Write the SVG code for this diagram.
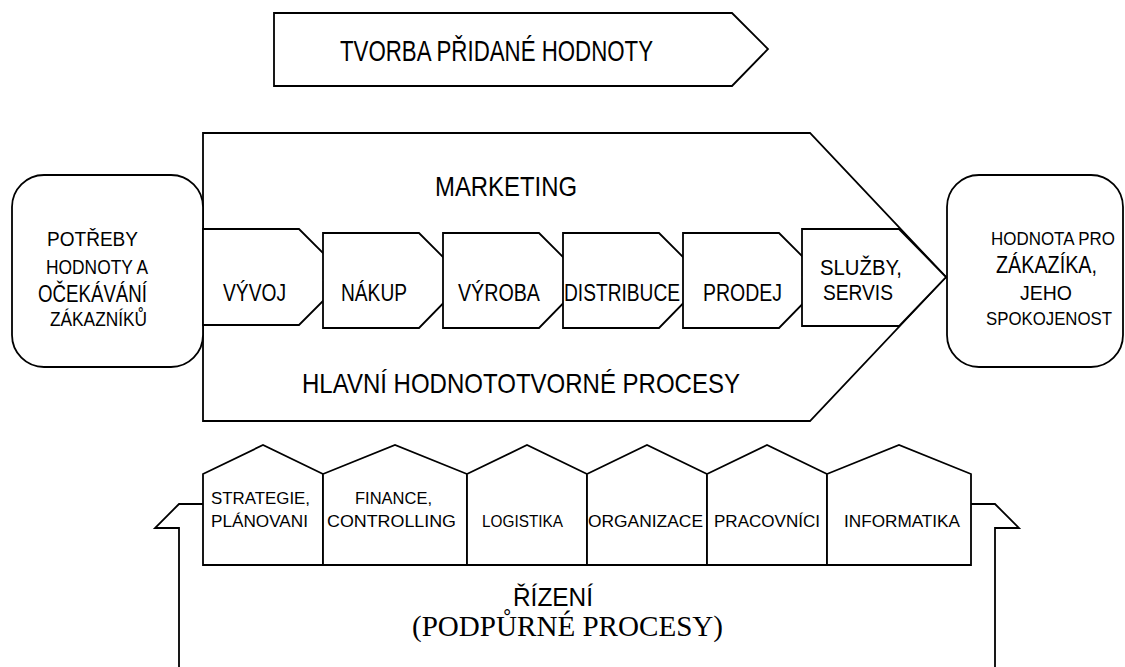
<svg xmlns="http://www.w3.org/2000/svg" width="1125" height="667" viewBox="0 0 1125 667">
  <style>
    .shape { fill: #fff; stroke: #000; stroke-width: 1.8; stroke-linejoin: miter; }
    .line { fill: none; stroke: #000; stroke-width: 1.8; stroke-linejoin: miter; }
    .lbl { font-family: "Liberation Sans", Arial, sans-serif; fill: #000; }
    .serif { font-family: "Liberation Serif", "Times New Roman", serif; fill: #000; }
  </style>
  <rect width="1125" height="667" fill="#fff"/>

  <!-- value-creation arrow -->
  <g id="tvorba">
    <polygon class="shape" points="274,13 732,13 768,49 732,86 274,86"/>
    <text class="lbl" x="340" y="61" font-size="29" textLength="313" lengthAdjust="spacingAndGlyphs">TVORBA PŘIDANÉ HODNOTY</text>
  </g>

  <!-- main value chain -->
  <g id="hlavni-procesy">
    <polygon class="shape" points="203,133 810,133 946,277 810,421 203,421"/>
    <text class="lbl" x="435" y="196" font-size="28" textLength="142" lengthAdjust="spacingAndGlyphs">MARKETING</text>
    <text class="lbl" x="302" y="393" font-size="28" textLength="438" lengthAdjust="spacingAndGlyphs">HLAVNÍ HODNOTOTVORNÉ PROCESY</text>
  </g>

  <g id="potreby">
    <rect class="shape" x="12" y="175" width="191" height="192" rx="32" ry="32"/>
    <text class="lbl" x="47" y="246" font-size="20" textLength="91" lengthAdjust="spacingAndGlyphs">POTŘEBY</text>
    <text class="lbl" x="46" y="274" font-size="20" textLength="102" lengthAdjust="spacingAndGlyphs">HODNOTY A</text>
    <text class="lbl" x="38" y="302" font-size="24" textLength="109" lengthAdjust="spacingAndGlyphs">OČEKÁVÁNÍ</text>
    <text class="lbl" x="50" y="326" font-size="20" textLength="97" lengthAdjust="spacingAndGlyphs">ZÁKAZNÍKŮ</text>
  </g>

  <g id="hodnota">
    <rect class="shape" x="947" y="175" width="176" height="192" rx="32" ry="32"/>
    <text class="lbl" x="991" y="245" font-size="19" textLength="124" lengthAdjust="spacingAndGlyphs">HODNOTA PRO</text>
    <text class="lbl" x="996" y="273" font-size="23" textLength="101" lengthAdjust="spacingAndGlyphs">ZÁKAZÍKA,</text>
    <text class="lbl" x="1020" y="300" font-size="20" textLength="52" lengthAdjust="spacingAndGlyphs">JEHO</text>
    <text class="lbl" x="986" y="325" font-size="19" textLength="126" lengthAdjust="spacingAndGlyphs">SPOKOJENOST</text>
  </g>

  <!-- chain steps, each drawn over the previous one's tip -->
  <g id="vyvoj">
    <polygon class="shape" points="203,229 299,229 347,277 299,325 203,325"/>
    <text class="lbl" x="223" y="301" font-size="23" textLength="63" lengthAdjust="spacingAndGlyphs">VÝVOJ</text>
  </g>
  <g id="nakup">
    <polygon class="shape" points="323,233 419,233 466,280 419,328 323,328"/>
    <text class="lbl" x="341" y="301" font-size="23" textLength="66" lengthAdjust="spacingAndGlyphs">NÁKUP</text>
  </g>
  <g id="vyroba">
    <polygon class="shape" points="443,233 539,233 586,280 539,328 443,328"/>
    <text class="lbl" x="458" y="301" font-size="23" textLength="82" lengthAdjust="spacingAndGlyphs">VÝROBA</text>
  </g>
  <g id="distribuce">
    <polygon class="shape" points="563,233 659,233 706,280 659,328 563,328"/>
    <text class="lbl" x="564" y="301" font-size="23" textLength="116" lengthAdjust="spacingAndGlyphs">DISTRIBUCE</text>
  </g>
  <g id="prodej">
    <polygon class="shape" points="683,233 779,233 826,280 779,328 683,328"/>
    <text class="lbl" x="703" y="301" font-size="23" textLength="79" lengthAdjust="spacingAndGlyphs">PRODEJ</text>
  </g>
  <g id="sluzby">
    <polygon class="shape" points="802,229 899,229 946,277 899,326 802,326"/>
    <text class="lbl" x="820" y="275" font-size="22" textLength="82" lengthAdjust="spacingAndGlyphs">SLUŽBY,</text>
    <text class="lbl" x="823" y="300" font-size="22" textLength="70" lengthAdjust="spacingAndGlyphs">SERVIS</text>
  </g>

  <!-- support processes -->
  <g id="rizeni">
    <polyline class="line" points="179,667 179,528 155,528 179,504 203,504"/>
    <polyline class="line" points="971,504 995,504 1019,528 995,528 995,667"/>
    <text class="lbl" x="513" y="606" font-size="25" textLength="80" lengthAdjust="spacingAndGlyphs">ŘÍZENÍ</text>
    <text class="serif" x="412" y="636" font-size="29" textLength="311" lengthAdjust="spacingAndGlyphs">(PODPŮRNÉ PROCESY)</text>
  </g>

  <g id="strategie">
    <polygon class="shape" points="203,565 203,474 263,445 323,474 323,565"/>
    <text class="lbl" x="211" y="504" font-size="17" textLength="99" lengthAdjust="spacingAndGlyphs">STRATEGIE,</text>
    <text class="lbl" x="211" y="527" font-size="17" textLength="97" lengthAdjust="spacingAndGlyphs">PLÁNOVANI</text>
  </g>
  <g id="finance">
    <polygon class="shape" points="323,565 323,474 395,445 467,474 467,565"/>
    <text class="lbl" x="355" y="504" font-size="17" textLength="77" lengthAdjust="spacingAndGlyphs">FINANCE,</text>
    <text class="lbl" x="327" y="527" font-size="17" textLength="129" lengthAdjust="spacingAndGlyphs">CONTROLLING</text>
  </g>
  <g id="logistika">
    <polygon class="shape" points="467,565 467,474 527,445 587,474 587,565"/>
    <text class="lbl" x="482" y="527" font-size="17" textLength="81" lengthAdjust="spacingAndGlyphs">LOGISTIKA</text>
  </g>
  <g id="organizace">
    <polygon class="shape" points="587,565 587,474 647,445 707,474 707,565"/>
    <text class="lbl" x="588" y="527" font-size="17" textLength="115" lengthAdjust="spacingAndGlyphs">ORGANIZACE</text>
  </g>
  <g id="pracovnici">
    <polygon class="shape" points="707,565 707,474 767,445 827,474 827,565"/>
    <text class="lbl" x="714" y="527" font-size="17" textLength="106" lengthAdjust="spacingAndGlyphs">PRACOVNÍCI</text>
  </g>
  <g id="informatika">
    <polygon class="shape" points="827,565 827,474 899,445 971,474 971,565"/>
    <text class="lbl" x="844" y="527" font-size="17" textLength="116" lengthAdjust="spacingAndGlyphs">INFORMATIKA</text>
  </g>

  <g id="connectors"/>
</svg>
